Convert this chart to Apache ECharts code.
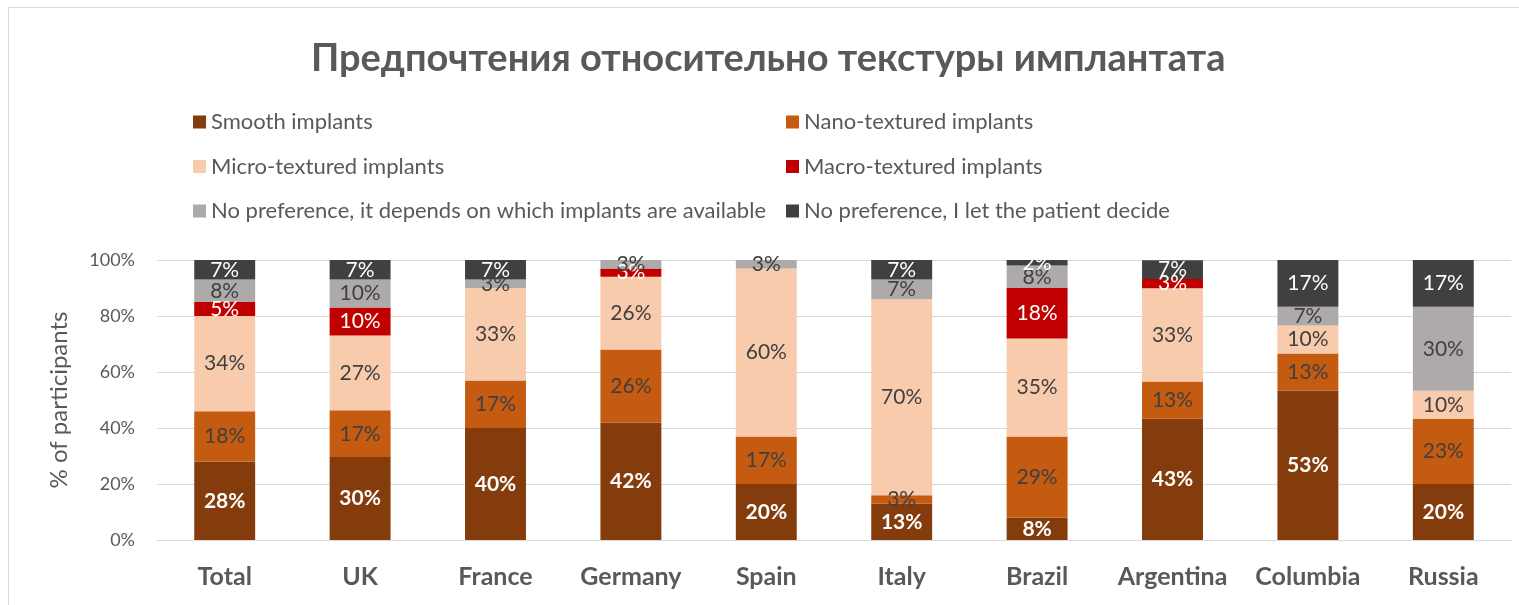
<!DOCTYPE html>
<html>
<head>
<meta charset="utf-8">
<style>
  html, body { margin: 0; padding: 0; background: #fff; }
  #frame { position: absolute; left: 8px; top: 7px; width: 1520px; height: 610px; border: 1px solid #d9d9d9; box-sizing: border-box; }
  #chart { position: absolute; left: 0; top: 0; width: 1519px; height: 605px; }
</style>
<script src="https://cdn.jsdelivr.net/npm/echarts@6/dist/echarts.min.js"></script>
</head>
<body>
<div id="frame"></div>
<div id="chart"></div>
<script>
const categories = ['Total', 'UK', 'France', 'Germany', 'Spain', 'Italy', 'Brazil', 'Argentina', 'Columbia', 'Russia']

const smooth = [28, 29.6, 40, 42, 20, 13, 8, 43.3, 53.3, 20]
const nano = [18, 16.7, 17, 26, 17, 3, 29, 13.3, 13.3, 23.3]
const micro = [34, 26.7, 33, 26, 60, 70, 35, 33.3, 10, 10]
const macro = [5, 10, 0, 3, 0, 0, 18, 3.3, 0, 0]
const noPrefAvailable = [8, 10, 3, 3, 3, 7, 8, 0, 6.7, 30]
const noPrefPatient = [7, 7, 7, 0, 0, 7, 2, 6.7, 16.7, 16.7]

const yTicks = [0, 20, 40, 60, 80, 100]

const font = 'Lato, "Noto Sans", sans-serif'

function pct (p) {
  return p.value > 0 ? Math.round(p.value) + '%' : ''
}

function bar (name, data, color, labelColor, bold) {
  return {
    name: name,
    type: 'bar',
    stack: 'all',
    barWidth: '45%',
    data: data,
    itemStyle: { color: color },
    label: {
      show: true,
      position: 'inside',
      formatter: pct,
      color: labelColor,
      fontSize: 21,
      fontFamily: font,
      fontWeight: bold ? 'bold' : 'normal'
    },
    emphasis: { disabled: true }
  }
}

const legendText = { fontSize: 22, color: '#595959', fontFamily: font, lineHeight: 22 }

const chart = echarts.init(document.getElementById('chart'))
chart.setOption({
  animation: false,
  title: {
    text: 'Предпочтения относительно текстуры имплантата',
    left: 306,
    top: 35,
    textStyle: { fontSize: 38, fontWeight: 'bold', color: '#595959', fontFamily: font }
  },
  legend: [{
    data: ['Smooth implants', 'Micro-textured implants', 'No preference, it depends on which implants are available'],
    orient: 'vertical',
    left: 188,
    top: 106,
    itemWidth: 13,
    itemHeight: 13,
    itemGap: 22.5,
    icon: 'rect',
    textStyle: legendText,
    selectedMode: false
  }, {
    data: ['Nano-textured implants', 'Macro-textured implants', 'No preference, I let the patient decide'],
    orient: 'vertical',
    left: 781,
    top: 106,
    itemWidth: 13,
    itemHeight: 13,
    itemGap: 22.5,
    icon: 'rect',
    textStyle: legendText,
    selectedMode: false
  }],
  grid: { left: 157, right: 8, top: 260, bottom: 65 },
  xAxis: {
    type: 'category',
    data: categories,
    axisTick: { show: false },
    axisLine: { lineStyle: { color: '#d9d9d9' } },
    axisLabel: { interval: 0, hideOverlap: false, fontSize: 25, fontWeight: 'bold', color: '#595959', fontFamily: font, margin: 24 }
  },
  yAxis: {
    type: 'value',
    min: yTicks[0],
    max: yTicks[yTicks.length - 1],
    interval: 20,
    name: '% of participants',
    nameLocation: 'middle',
    nameGap: 86,
    nameTextStyle: { fontSize: 24, color: '#595959', fontFamily: font },
    axisLabel: { formatter: '{value}%', fontSize: 18, color: '#595959', fontFamily: font, margin: 22 },
    splitLine: { lineStyle: { color: '#d9d9d9' } }
  },
  series: [
    bar('Smooth implants', smooth, '#843C0C', '#ffffff', true),
    bar('Nano-textured implants', nano, '#C55A11', '#404040', false),
    bar('Micro-textured implants', micro, '#F8CBAD', '#404040', false),
    bar('Macro-textured implants', macro, '#C00000', '#ffffff', false),
    bar('No preference, it depends on which implants are available', noPrefAvailable, '#AEAAAA', '#404040', false),
    bar('No preference, I let the patient decide', noPrefPatient, '#404040', '#ffffff', false)
  ]
})
</script>
</body>
</html>
